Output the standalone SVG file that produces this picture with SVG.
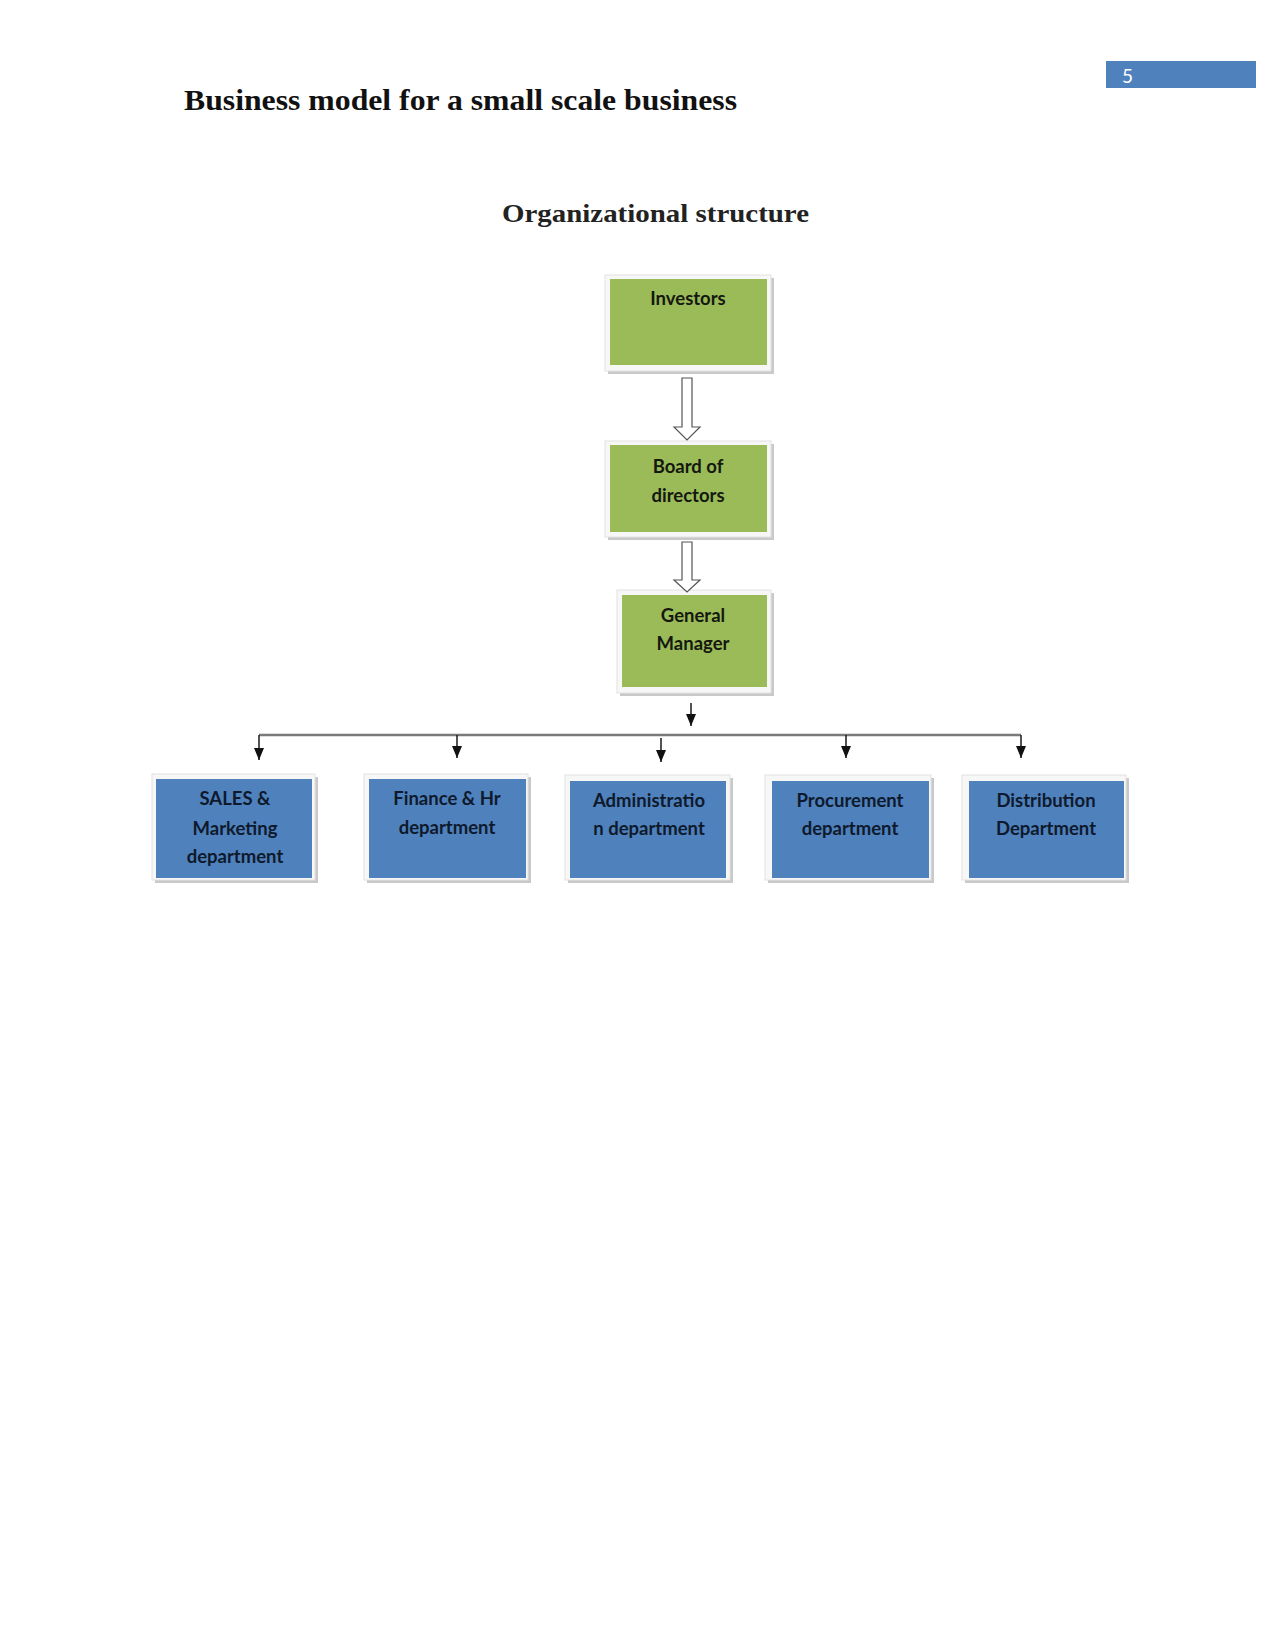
<svg xmlns="http://www.w3.org/2000/svg" width="1275" height="1651" viewBox="0 0 1275 1651">
<style>
.frame{fill:#f7f7f7;stroke:#e2e2e2;stroke-width:1}
.shadow{fill:#c9c9c9}
.green{fill:#9bbb59}
.blue{fill:#4f81bd}
.gt{font-family:Lato,"Liberation Sans",sans-serif;font-weight:bold;font-size:18.5px;fill:#14180f;text-anchor:middle}
.bt{font-family:Lato,"Liberation Sans",sans-serif;font-weight:bold;font-size:18.5px;fill:#0e1a2c;text-anchor:middle}
.hollow{fill:#ffffff;stroke:#555555;stroke-width:1.2}
.arr{stroke:#1a1a1a;stroke-width:1.5;fill:none;marker-end:url(#ah)}
</style>
<defs>
<marker id="ah" markerWidth="12" markerHeight="10" refX="12" refY="5" orient="auto" markerUnits="userSpaceOnUse" viewBox="0 0 12 10">
<path d="M0,0 L12,5 L0,10 Z" fill="#111"/>
</marker>
</defs>
<rect width="1275" height="1651" fill="#ffffff"/>
<g id="page-number">
<rect x="1106" y="61" width="150" height="27" fill="#4f81bd"/>
<text x="1122" y="83" font-family="Lato,'Liberation Sans',sans-serif" font-size="19" fill="#ffffff">5</text>
</g>
<text id="title" x="184" y="110" font-family="'Liberation Serif',serif" font-weight="bold" font-size="30" textLength="553" lengthAdjust="spacingAndGlyphs" fill="#111">Business model for a small scale business</text>
<text id="subtitle" x="502" y="222" font-family="'Liberation Serif',serif" font-weight="bold" font-size="25" textLength="307" lengthAdjust="spacingAndGlyphs" fill="#222">Organizational structure</text>

<g id="investors">
<rect class="shadow" x="608" y="278" width="166" height="96"/>
<rect class="frame" x="605" y="275" width="166" height="96"/>
<rect class="green" x="610" y="279" width="157" height="86"/>
<text class="gt" x="688" y="305">Investors</text>
</g>
<g id="board">
<rect class="shadow" x="608" y="444" width="166" height="96"/>
<rect class="frame" x="605" y="441" width="166" height="96"/>
<rect class="green" x="610" y="445" width="157" height="87"/>
<text class="gt" x="688" y="473">Board of</text>
<text class="gt" x="688" y="502">directors</text>
</g>
<g id="gm">
<rect class="shadow" x="620" y="593" width="154" height="103"/>
<rect class="frame" x="617" y="590" width="154" height="103"/>
<rect class="green" x="622" y="595" width="145" height="92"/>
<text class="gt" x="693" y="622">General</text>
<text class="gt" x="693" y="650">Manager</text>
</g>

<g id="sales">
<rect class="shadow" x="155" y="777" width="163" height="106"/>
<rect class="frame" x="152" y="774" width="163" height="106"/>
<rect class="blue" x="156" y="779" width="156" height="99"/>
<text class="bt" x="235" y="805">SALES &amp;</text>
<text class="bt" x="235" y="835">Marketing</text>
<text class="bt" x="235" y="863">department</text>
</g>
<g id="finance">
<rect class="shadow" x="367" y="777" width="164" height="106"/>
<rect class="frame" x="364" y="774" width="164" height="106"/>
<rect class="blue" x="369" y="779" width="157" height="99"/>
<text class="bt" x="447" y="805">Finance &amp; Hr</text>
<text class="bt" x="447" y="834">department</text>
</g>
<g id="admin">
<rect class="shadow" x="568" y="778" width="165" height="105"/>
<rect class="frame" x="565" y="775" width="165" height="105"/>
<rect class="blue" x="570" y="781" width="156" height="97"/>
<text class="bt" x="649" y="807">Administratio</text>
<text class="bt" x="649" y="835">n department</text>
</g>
<g id="procurement">
<rect class="shadow" x="768" y="778" width="166" height="105"/>
<rect class="frame" x="765" y="775" width="166" height="105"/>
<rect class="blue" x="772" y="781" width="157" height="97"/>
<text class="bt" x="850" y="807">Procurement</text>
<text class="bt" x="850" y="835">department</text>
</g>
<g id="distribution">
<rect class="shadow" x="965" y="778" width="164" height="105"/>
<rect class="frame" x="962" y="775" width="164" height="105"/>
<rect class="blue" x="969" y="781" width="155" height="97"/>
<text class="bt" x="1046" y="807">Distribution</text>
<text class="bt" x="1046" y="835">Department</text>
</g>

<g id="connectors">
<polygon class="hollow" points="682,378 692,378 692,427 700,427 687,440 674,427 682,427"/>
<polygon class="hollow" points="682,542 692,542 692,580 700,580 687,592 674,580 682,580"/>
<line class="arr" x1="691" y1="703" x2="691" y2="726"/>
<line x1="259" y1="735" x2="1021" y2="735" stroke="#7a7a7a" stroke-width="2.5"/>
<line class="arr" x1="259" y1="735" x2="259" y2="760"/>
<line class="arr" x1="457" y1="735" x2="457" y2="758"/>
<line class="arr" x1="661" y1="738" x2="661" y2="762"/>
<line class="arr" x1="846" y1="735" x2="846" y2="758"/>
<line class="arr" x1="1021" y1="735" x2="1021" y2="758"/>
</g>
</svg>
